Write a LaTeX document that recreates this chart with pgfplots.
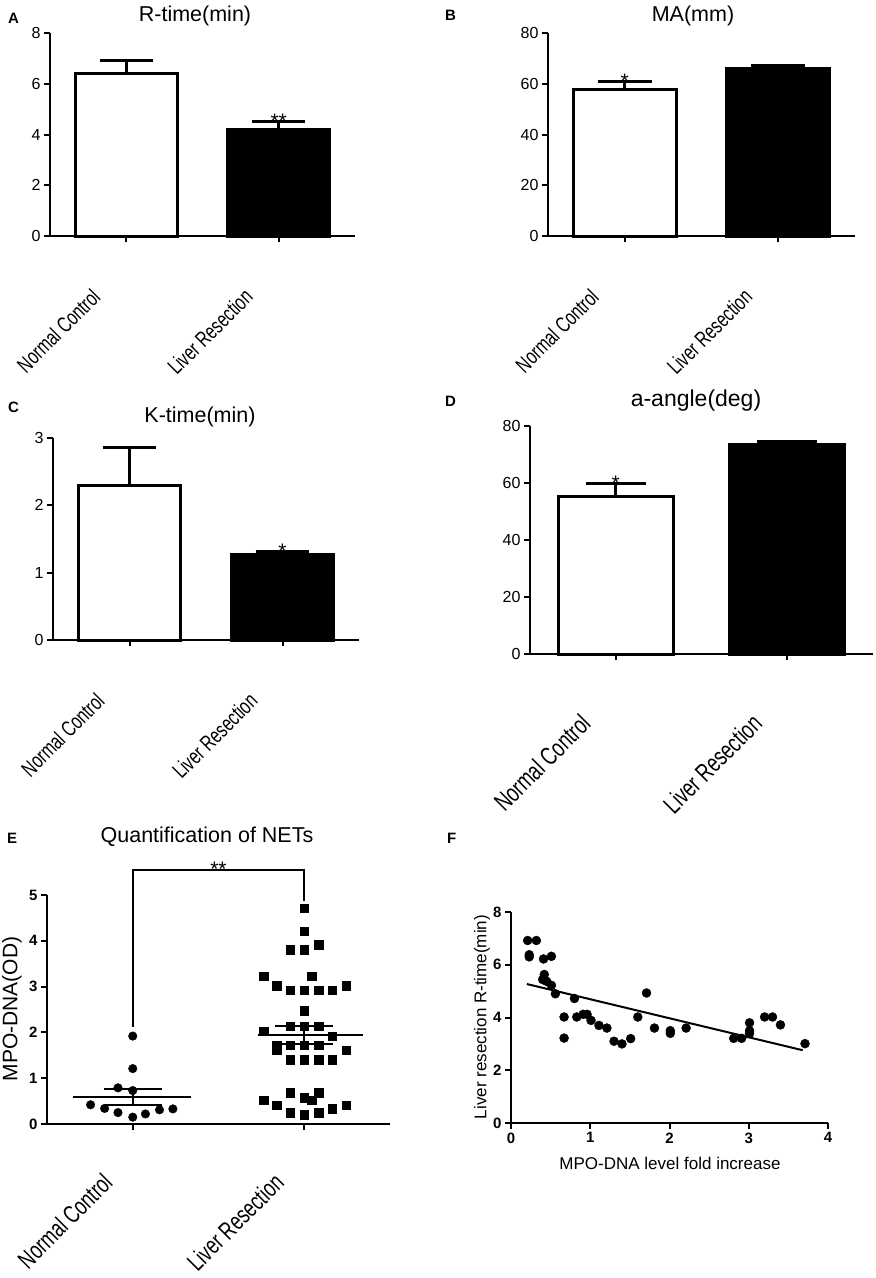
\documentclass[border=0pt]{standalone}
\usepackage{fontspec}
\setmainfont{Liberation Sans}
\newfontfamily\condf[FakeStretch=0.72]{Liberation Sans}
\usepackage{pgfplots}
\pgfplotsset{compat=1.18}
\newcommand{\fs}[1]{\fontsize{#1}{#1}\selectfont}
\pgfplotsset{
  base/.style={scale only axis, axis x line*=bottom, axis y line*=left,
    tick align=outside, major tick length=6pt,
    every tick/.style={black, line width=2pt},
    axis line style={line width=2pt, black},
    clip=false, /pgf/number format/assume math mode=true},
  catlab/.style n args={3}{xticklabel style={xshift=#1, yshift=#2, rotate=45, anchor=east, inner sep=0pt, font=\condf\fs{#3}}},
  barpanel/.style={base, xmin=-0.5, xmax=1.5, ymin=0, xtick={0,1},
    xticklabels={Normal Control,Liver Resection},
    yticklabel style={font=\fs{16}}},
  mybar/.style={ybar, bar width=0.67, bar shift=0pt, line width=3pt, draw=black},
  myeb/.style={line width=3pt, black},
}
\tikzset{mystar/.style={anchor=base, yshift=-7pt, inner sep=0pt, font=\fs{21}}}
\begin{document}
\begin{tikzpicture}
\path[use as bounding box] (0,0) rectangle (876pt,-1278pt);
% panel letters and titles
\node[anchor=base west, inner sep=0pt, font=\bfseries\fs{15}] at (8pt,-23pt) {A};
\node[anchor=base west, inner sep=0pt, font=\bfseries\fs{15}] at (445pt,-20pt) {B};
\node[anchor=base west, inner sep=0pt, font=\bfseries\fs{15}] at (8pt,-412pt) {C};
\node[anchor=base west, inner sep=0pt, font=\bfseries\fs{15}] at (445pt,-406pt) {D};
\node[anchor=base west, inner sep=0pt, font=\bfseries\fs{15}] at (7pt,-843pt) {E};
\node[anchor=base west, inner sep=0pt, font=\bfseries\fs{15}] at (447pt,-843pt) {F};
\node[anchor=base, inner sep=0pt, font=\fs{21.5}] at (195pt,-21pt) {R-time(min)};
\node[anchor=base, inner sep=0pt, font=\fs{21.5}] at (693pt,-21pt) {MA(mm)};
\node[anchor=base, inner sep=0pt, font=\fs{21.5}] at (200pt,-422pt) {K-time(min)};
\node[anchor=base, inner sep=0pt, font=\fs{23}] at (696pt,-406pt) {a-angle(deg)};
\node[anchor=base, inner sep=0pt, font=\fs{21.5}] at (207pt,-842pt) {Quantification of NETs};

% A
\begin{axis}[barpanel, catlab={-30pt}{-51pt}{22}, at={(50pt,-236pt)}, anchor=south west, width=305pt, height=203pt,
  ymax=8, ytick={0,2,4,6,8}]
\addplot[mybar, fill=white] coordinates {(0,6.42)};
\addplot[mybar, fill=black] coordinates {(1,4.18)};
\addplot[myeb] coordinates {(0,6.42) (0,6.90)};
\addplot[myeb] coordinates {(-0.175,6.90) (0.175,6.90)};
\addplot[myeb] coordinates {(1,4.18) (1,4.51)};
\addplot[myeb] coordinates {(0.825,4.51) (1.175,4.51)};
\node[mystar] at (axis cs:1,4.51) {**};
\end{axis}

% B
\begin{axis}[barpanel, catlab={-30pt}{-51pt}{22}, at={(548pt,-236pt)}, anchor=south west, width=307pt, height=203pt,
  ymax=80, ytick={0,20,40,60,80}]
\addplot[mybar, fill=white] coordinates {(0,57.9)};
\addplot[mybar, fill=black] coordinates {(1,66.2)};
\addplot[myeb] coordinates {(0,57.9) (0,61.0)};
\addplot[myeb] coordinates {(-0.175,61.0) (0.175,61.0)};
\addplot[myeb] coordinates {(1,66.2) (1,67.1)};
\addplot[myeb] coordinates {(0.825,67.1) (1.175,67.1)};
\node[mystar] at (axis cs:0,61.0) {*};
\end{axis}

% C
\begin{axis}[barpanel, catlab={-29pt}{-51pt}{22}, at={(53pt,-640pt)}, anchor=south west, width=306pt, height=202pt,
  ymax=3, ytick={0,1,2,3}]
\addplot[mybar, fill=white] coordinates {(0,2.30)};
\addplot[mybar, fill=black] coordinates {(1,1.27)};
\addplot[myeb] coordinates {(0,2.30) (0,2.86)};
\addplot[myeb] coordinates {(-0.175,2.86) (0.175,2.86)};
\addplot[myeb] coordinates {(1,1.27) (1,1.32)};
\addplot[myeb] coordinates {(0.825,1.32) (1.175,1.32)};
\node[mystar] at (axis cs:1,1.32) {*};
\end{axis}

% D
\begin{axis}[barpanel, catlab={-30pt}{-59pt}{25.5}, at={(530pt,-654pt)}, anchor=south west, width=343pt, height=228pt,
  ymax=80, ytick={0,20,40,60,80}]
\addplot[mybar, fill=white] coordinates {(0,55.2)};
\addplot[mybar, fill=black] coordinates {(1,73.5)};
\addplot[myeb] coordinates {(0,55.2) (0,60.0)};
\addplot[myeb] coordinates {(-0.175,60.0) (0.175,60.0)};
\addplot[myeb] coordinates {(1,73.5) (1,74.4)};
\addplot[myeb] coordinates {(0.825,74.4) (1.175,74.4)};
\node[mystar] at (axis cs:0,60.0) {*};
\end{axis}

% E
\node[rotate=90, anchor=center, inner sep=0pt, font=\fs{21}] at (12pt,-1009pt) {MPO-DNA(OD)};
\begin{axis}[barpanel, catlab={-25pt}{-48pt}{25}, at={(47pt,-1124pt)}, anchor=south west, width=343pt, height=229pt,
  ymax=5, ytick={0,1,2,3,4,5}, yticklabel style={font=\bfseries\fs{15}}]
\addplot[only marks, mark=*, mark size=4.3pt, black] coordinates {
(0,1.92) (0,1.21) (-0.086,0.79) (0,0.73) (-0.246,0.42) (-0.164,0.34) (-0.086,0.25) (0,0.15) (0.074,0.22) (0.156,0.31) (0.234,0.33)};
\addplot[only marks, mark=square*, mark size=4.3pt, black] coordinates {
(1,4.71) (1,4.21) (1.084,3.92) (0.918,3.81) (1,3.81) (0.762,3.23) (1.045,3.23) (0.84,3.02) (1.244,3.02)
(0.918,2.92) (1,2.92) (1.084,2.92) (1.164,2.92) (1,2.47) (0.762,2.03) (0.918,2.14) (1,2.14) (1.084,2.14)
(1.164,1.92) (0.84,1.72) (0.84,1.62) (0.918,1.72) (1,1.72) (1.084,1.72) (1.244,1.61) (0.918,1.41) (1,1.41)
(1.084,1.41) (1.164,1.41) (0.762,0.52) (0.84,0.41) (0.918,0.69) (1,0.58) (1.045,0.52) (1.084,0.69)
(1.164,0.34) (1.244,0.41) (0.918,0.25) (1,0.20) (1.084,0.25)};
\addplot[line width=2pt, black] coordinates {(-0.35,0.58) (0.34,0.58)};
\addplot[line width=2pt, black] coordinates {(0,0.41) (0,0.76)};
\addplot[line width=2pt, black] coordinates {(-0.17,0.76) (0.17,0.76)};
\addplot[line width=2pt, black] coordinates {(-0.17,0.41) (0.17,0.41)};
\addplot[line width=2pt, black] coordinates {(0.73,1.94) (1.34,1.94)};
\addplot[line width=2pt, black] coordinates {(1,1.74) (1,2.14)};
\addplot[line width=2pt, black] coordinates {(0.83,2.14) (1.17,2.14)};
\addplot[line width=2pt, black] coordinates {(0.83,1.74) (1.17,1.74)};
\addplot[line width=2pt, black] coordinates {(0,2.12) (0,5.55) (1,5.55) (1,4.86)};
\node[mystar] at (axis cs:0.5,5.55) {**};
\end{axis}

% F
\node[rotate=90, anchor=center, inner sep=0pt, font=\fs{17}] at (482pt,-1017pt) {Liver resection R-time(min)};
\node[anchor=base, inner sep=0pt, font=\fs{17}] at (670pt,-1169pt) {MPO-DNA level fold increase};
\begin{axis}[base, at={(511pt,-1123pt)}, anchor=south west, width=317pt, height=211pt,
  xmin=0, xmax=4, ymin=0, ymax=8, xtick={0,1,2,3,4}, ytick={0,2,4,6,8},
  ticklabel style={font=\bfseries\fs{15}}]
\addplot[only marks, mark=*, mark size=4.5pt, black] coordinates {
(0.21,6.92) (0.32,6.92) (0.23,6.38) (0.23,6.30) (0.41,6.22) (0.51,6.32) (0.42,5.63) (0.40,5.44)
(0.45,5.37) (0.51,5.22) (0.56,4.90) (0.67,4.02) (0.67,3.22) (0.80,4.72) (0.83,4.02) (0.91,4.12)
(0.96,4.12) (1.01,3.89) (1.11,3.70) (1.21,3.60) (1.30,3.10) (1.40,3.00) (1.51,3.20) (1.60,4.02)
(1.71,4.93) (1.81,3.60) (2.01,3.50) (2.01,3.40) (2.21,3.60) (2.81,3.21) (2.91,3.21) (3.01,3.80)
(3.01,3.50) (3.01,3.39) (3.20,4.02) (3.30,4.02) (3.40,3.72) (3.71,3.01)};
\addplot[line width=2pt, black] coordinates {(0.20,5.27) (3.68,2.76)};
\end{axis}
\end{tikzpicture}
\end{document}
